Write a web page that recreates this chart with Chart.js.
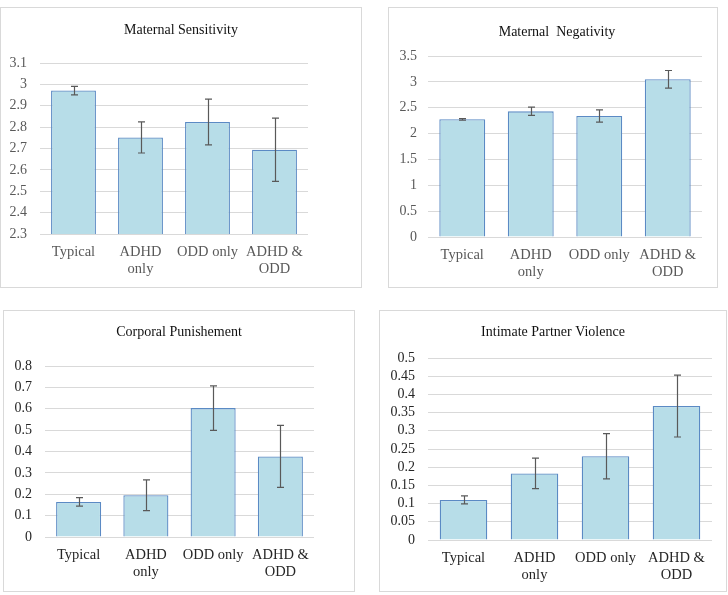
<!DOCTYPE html>
<html>
<head>
<meta charset="utf-8">
<script src="https://cdn.jsdelivr.net/npm/chart.js@4.4.0/dist/chart.umd.min.js"></script>
<style>
  body { margin: 0; background: #fff; }
  .panel { position: absolute; border: 1px solid #d9d9d9; box-sizing: border-box; background: #fff; }
  .panel canvas { position: absolute; left: 0; top: 0; }
</style>
</head>
<body>
<div class="panel" id="p1" style="left:0px;top:7px;width:362px;height:281px"><canvas id="c1"></canvas></div>
<div class="panel" id="p2" style="left:388px;top:7px;width:330px;height:281px"><canvas id="c2"></canvas></div>
<div class="panel" id="p3" style="left:3px;top:310px;width:352px;height:282px"><canvas id="c3"></canvas></div>
<div class="panel" id="p4" style="left:379px;top:310px;width:348px;height:282px"><canvas id="c4"></canvas></div>
<script>
// groups
const groups = [['Typical'], ['ADHD', 'only'], ['ODD only'], ['ADHD &', 'ODD']];

// Maternal Sensitivity
const sensMean = [2.971, 2.752, 2.824, 2.694];
const sensErr = [0.02, 0.073, 0.107, 0.148];
const sensAxis = [2.3, 3.1, 0.1];

// Maternal Negativity
const negMean = [2.276, 2.43, 2.34, 3.05];
const negErr = [0.015, 0.08, 0.12, 0.17];
const negAxis = [0, 3.5, 0.5];

// Corporal Punishement
const corpMean = [0.164, 0.195, 0.603, 0.377];
const corpErr = [0.02, 0.072, 0.104, 0.145];
const corpAxis = [0, 0.8, 0.1];

// Intimate Partner Violence
const ipvMean = [0.110, 0.183, 0.230, 0.368];
const ipvErr = [0.011, 0.042, 0.062, 0.085];
const ipvAxis = [0, 0.5, 0.05];

const FONT = "'Liberation Serif', 'Times New Roman', serif";

// draws +/- error bars on top of the bars
const errorBars = {
  id: 'errorBars',
  afterDatasetsDraw(chart) {
    const ctx = chart.ctx;
    const y = chart.scales.y;
    const meta = chart.getDatasetMeta(0);
    const ds = chart.data.datasets[0];
    ctx.save();
    ctx.strokeStyle = '#595959';
    ctx.lineWidth = 1.2;
    meta.data.forEach((bar, i) => {
      const hi = y.getPixelForValue(ds.data[i] + ds.err[i]);
      const lo = y.getPixelForValue(ds.data[i] - ds.err[i]);
      const x = Math.round(bar.x) + 0.5;
      ctx.beginPath();
      ctx.moveTo(x, hi); ctx.lineTo(x, lo);
      ctx.moveTo(x - 3.5, hi); ctx.lineTo(x + 3.5, hi);
      ctx.moveTo(x - 3.5, lo); ctx.lineTo(x + 3.5, lo);
      ctx.stroke();
    });
    ctx.restore();
  }
};

function makeChart(id, title, mean, err, axis, box) {
  const cv = document.getElementById(id);
  cv.width = box.w - 2;
  cv.height = box.h - 2;
  const tickColor = box.dark ? '#262626' : '#595959';
  return new Chart(cv, {
    type: 'bar',
    data: {
      labels: groups,
      datasets: [{
        data: mean,
        err: err,
        backgroundColor: '#b7dde8',
        borderColor: '#5b8ac4',
        borderWidth: 1.3,
        barPercentage: 0.67,
        categoryPercentage: 1,
      }],
    },
    options: {
      responsive: false,
      animation: false,
      layout: { padding: { left: box.padL, right: 0, top: 0, bottom: 0 } },
      plugins: {
        legend: { display: false },
        tooltip: { enabled: false },
        title: {
          display: true,
          text: title,
          color: '#111',
          font: { family: FONT, size: 14, weight: 'normal', lineHeight: 1.2 },
          padding: { top: box.titleY - 8.4, bottom: box.t - box.titleY - 8.4 },
        },
      },
      scales: {
        x: {
          grid: { display: false },
          border: { display: false },
          ticks: { color: tickColor, padding: 2, maxRotation: 0, font: { family: FONT, size: 14.5, lineHeight: 1.17 } },
          afterFit(s) { s.height = (box.h - 2) - box.b; },
        },
        y: {
          min: axis[0],
          max: axis[1],
          grid: { color: '#d9d9d9', drawTicks: false, lineWidth: 1 },
          border: { display: false },
          ticks: {
            stepSize: axis[2],
            maxTicksLimit: 20,
            color: tickColor,
            padding: box.tickPad,
            font: { family: FONT, size: 14, lineHeight: 1 },
            callback: v => String(+v.toFixed(2)),
          },
          afterFit(s) { s.width = box.l - box.padL; },
        },
        yR: {
          position: 'right',
          grid: { display: false },
          border: { display: false },
          ticks: { display: false },
          afterFit(s) { s.width = (box.w - 2) - box.r; },
        },
      },
    },
    plugins: [errorBars],
  });
}

makeChart('c1', 'Maternal Sensitivity', sensMean, sensErr, sensAxis,
  { w: 362, h: 281, l: 39, r: 307, t: 55, b: 226, titleY: 22, padL: 0, tickPad: 13 });
makeChart('c2', 'Maternal  Negativity', negMean, negErr, negAxis,
  { w: 330, h: 281, l: 39, r: 313, t: 48, b: 229, titleY: 24, padL: 8, tickPad: 11 });
makeChart('c3', 'Corporal Punishement', corpMean, corpErr, corpAxis,
  { w: 352, h: 282, l: 41, r: 310, t: 55, b: 226, titleY: 21, padL: 0, tickPad: 13, dark: true });
makeChart('c4', 'Intimate Partner Violence', ipvMean, ipvErr, ipvAxis,
  { w: 348, h: 282, l: 48, r: 332, t: 47, b: 229, titleY: 21, padL: 0, tickPad: 13, dark: true });
</script>
</body>
</html>
